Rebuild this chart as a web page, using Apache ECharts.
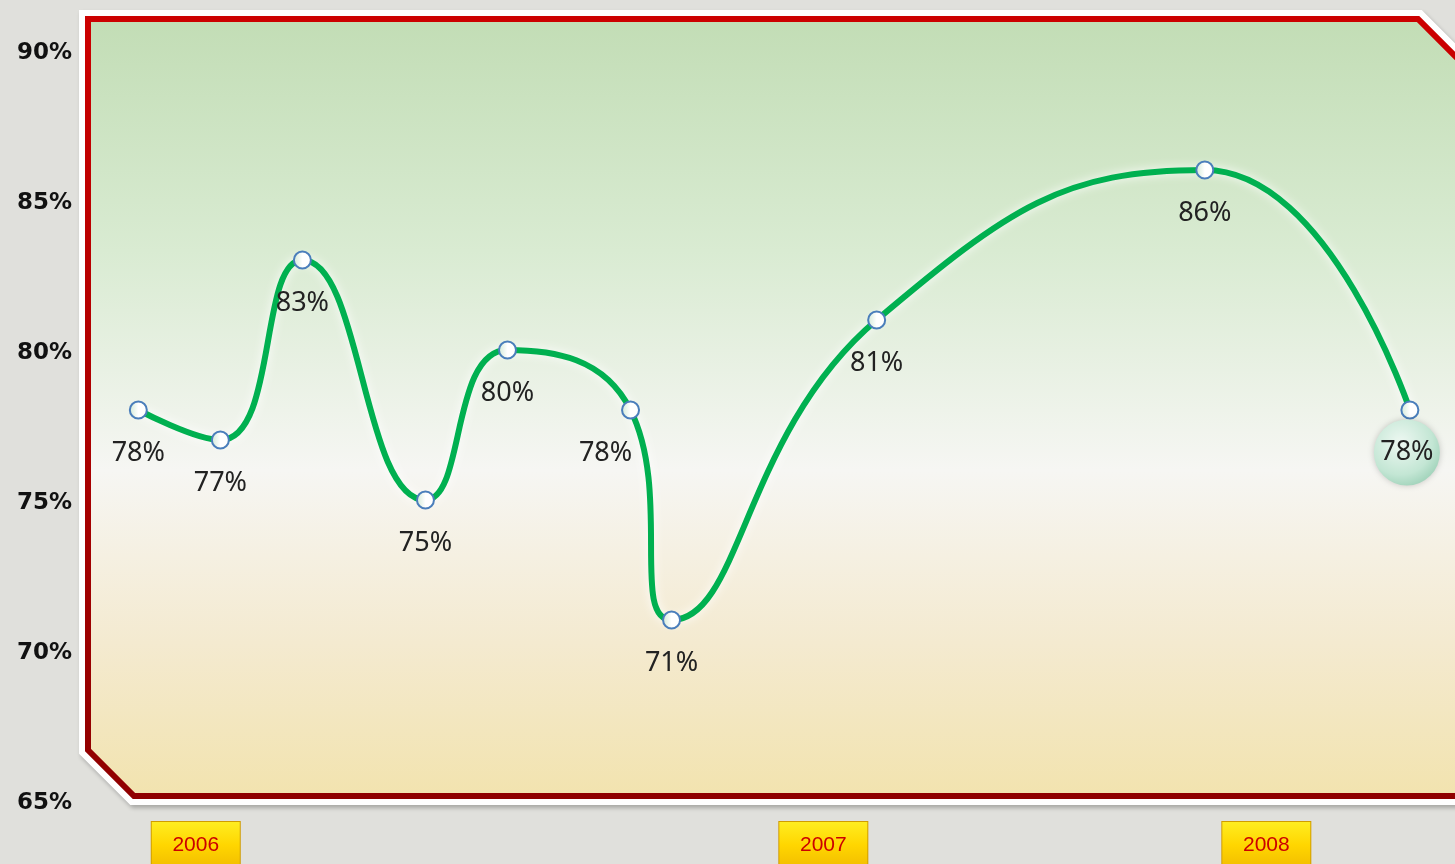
<!DOCTYPE html>
<html>
<head>
<meta charset="utf-8">
<title>趋势图</title>
<script src="https://cdn.jsdelivr.net/npm/echarts@6/dist/echarts.min.js"></script>
<style>
    html, body {margin: 0; padding: 0; background: #e0e0dc;}
    #trend-chart {width: 1455px; height: 864px;}
</style>
</head>
<body>
<div id="trend-chart"></div>
<script>
// 数据点横坐标（月份序号）与数值
var months = [0, 2, 4, 7, 9, 12, 13, 18, 26, 31];
var values = [78, 77, 83, 75, 80, 78, 71, 81, 86, 78];
// 年份标签所在位置
var yearTicks = [1.4, 16.7, 27.5];
var yearLabels = ['2006', '2007', '2008'];
// 纵轴刻度
var yMin = 65, yMax = 90, yStep = 5;

function Trend() {
    var myChart = echarts.init(document.getElementById('trend-chart'));

    // 外框（切角）
    var frame = [[88, 19], [1418, 19], [1470, 71], [1470, 796], [134, 796], [88, 750]];

    var seriesData = [];
    for (var n = 0; n < values.length; n++) {
        var item = {value: [months[n], values[n]]};
        if (n === 5) {
            item.label = {offset: [-25, 0]};
        }
        if (n === values.length - 1) {
            // 最后一个点：气泡
            item.label = {
                width: 66,
                height: 66,
                lineHeight: 66,
                align: 'center',
                borderRadius: 33,
                distance: 0,
                offset: [-3, 0],
                backgroundColor: new echarts.graphic.RadialGradient(0.4, 0.35, 0.7, [
                    {offset: 0, color: '#eef8f2'},
                    {offset: 0.7, color: '#c3e6d4'},
                    {offset: 1, color: '#9fd2b9'}
                ]),
                shadowColor: 'rgba(0,0,0,0.2)',
                shadowBlur: 6
            };
        }
        seriesData.push(item);
    }

    var option = {
        backgroundColor: '#e0e0dc',
        animation: false,
        graphic: [
            {
                type: 'polygon',
                z: -10,
                shape: {points: frame},
                style: {
                    fill: null,
                    stroke: '#ffffff',
                    lineWidth: 18,
                    lineJoin: 'miter',
                    shadowColor: 'rgba(0,0,0,0.25)',
                    shadowBlur: 4,
                    shadowOffsetX: 2,
                    shadowOffsetY: 3
                }
            },
            {
                type: 'polygon',
                z: -9,
                shape: {points: frame},
                style: {
                    fill: new echarts.graphic.LinearGradient(0, 0, 0, 1, [
                        {offset: 0, color: '#c2ddb5'},
                        {offset: 0.3, color: '#d9ebd2'},
                        {offset: 0.58, color: '#f6f6f3'},
                        {offset: 0.8, color: '#f4ead0'},
                        {offset: 1, color: '#f2e3ae'}
                    ]),
                    stroke: new echarts.graphic.LinearGradient(0, 0, 0, 1, [
                        {offset: 0, color: '#cc0000'},
                        {offset: 1, color: '#8f0000'}
                    ]),
                    lineWidth: 6,
                    lineJoin: 'miter'
                }
            }
        ],
        grid: {
            left: 85,
            right: 0,
            top: 50,
            bottom: 64,
            outerBoundsMode: 'none'
        },
        xAxis: {
            type: 'value',
            min: -1.3,
            max: 32.1,
            axisLine: {show: false},
            axisTick: {show: false},
            splitLine: {show: false},
            axisLabel: {
                customValues: yearTicks,
                margin: 22,
                formatter: function (v) {
                    for (var i = 0; i < yearTicks.length; i++) {
                        if (Math.abs(yearTicks[i] - v) < 0.01) return yearLabels[i];
                    }
                    return '';
                },
                color: '#cc0000',
                fontFamily: 'Liberation Sans',
                fontSize: 21,
                width: 88,
                align: 'center',
                padding: [13, 0, 12, 0],
                backgroundColor: new echarts.graphic.LinearGradient(0, 0, 0, 1, [
                    {offset: 0, color: '#ffee22'},
                    {offset: 0.5, color: '#ffd600'},
                    {offset: 1, color: '#f2bc00'}
                ]),
                borderColor: '#d09c00',
                borderWidth: 1
            }
        },
        yAxis: {
            type: 'value',
            min: yMin,
            max: yMax,
            interval: yStep,
            axisLine: {show: false},
            axisTick: {show: false},
            splitLine: {show: false},
            axisLabel: {
                formatter: '{t|{value}%}',
                margin: 13,
                rich: {
                    t: {
                        padding: [6, 0, 0, 0],
                        color: '#111',
                        fontWeight: 'bold',
                        fontFamily: 'DejaVu Sans',
                        fontSize: 23
                    }
                }
            }
        },
        series: [
            {
                type: 'line',
                smooth: 0.5,
                data: seriesData,
                symbol: 'circle',
                symbolSize: 17,
                lineStyle: {
                    color: '#00b050',
                    width: 6,
                    shadowColor: 'rgba(255,255,255,0.95)',
                    shadowBlur: 10
                },
                itemStyle: {
                    color: new echarts.graphic.LinearGradient(0, 0, 1, 0, [
                        {offset: 0, color: '#cfe8d4'},
                        {offset: 0.5, color: '#ffffff'},
                        {offset: 1, color: '#ffffff'}
                    ]),
                    borderColor: '#4a7ebb',
                    borderWidth: 2
                },
                label: {
                    show: true,
                    position: 'bottom',
                    distance: 20,
                    formatter: function (p) {
                        return p.value[1] + '%';
                    },
                    color: '#222',
                    fontFamily: 'Noto Sans',
                    fontSize: 27
                },
                z: 3
            }
        ]
    };

    myChart.setOption(option);
}

Trend();
</script>
</body>
</html>
